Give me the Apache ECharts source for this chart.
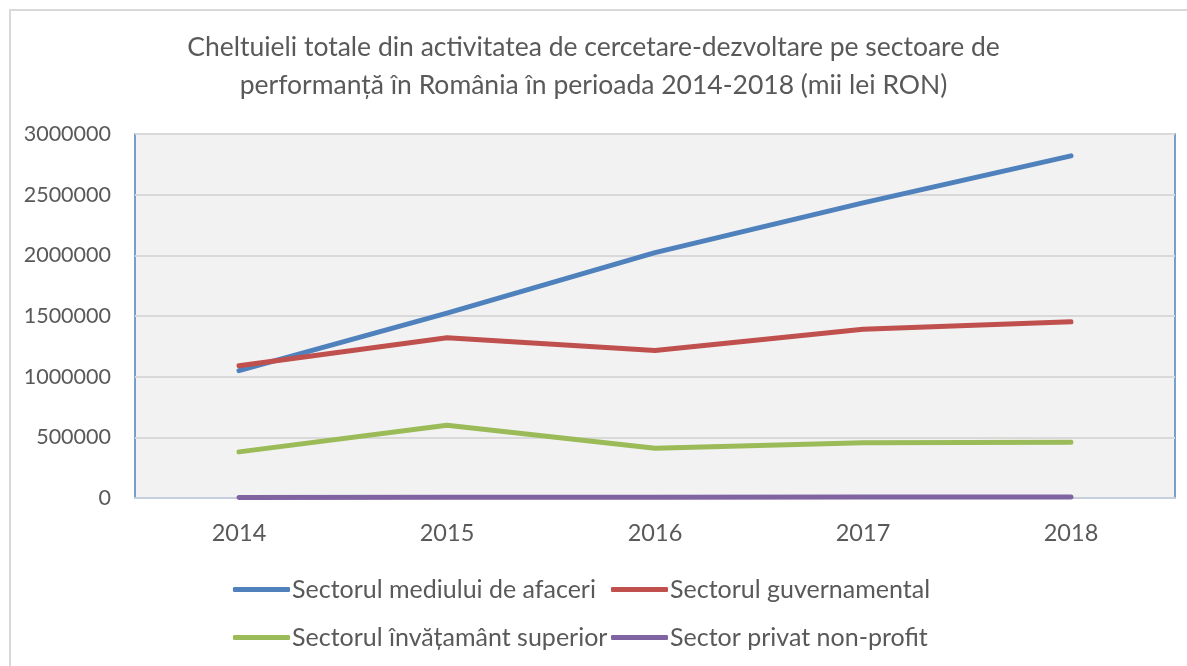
<!DOCTYPE html>
<html>
<head>
<meta charset="utf-8">
<script src="https://cdn.jsdelivr.net/npm/echarts@6/dist/echarts.min.js"></script>
<style>
  html, body { margin: 0; padding: 0; background: #fff; }
  #main { width: 1187px; height: 666px; }
</style>
</head>
<body>
<div id="main"></div>
<script>
const years = ['2014', '2015', '2016', '2017', '2018']
const seriesNames = [
  'Sectorul mediului de afaceri',
  'Sectorul guvernamental',
  'Sectorul învățamânt superior',
  'Sector privat non-profit'
]
const afaceri = [1050000, 1524000, 2022000, 2432000, 2820000]
const guvernamental = [1090000, 1321000, 1215000, 1390000, 1452000]
const superior = [380000, 600000, 410000, 455000, 460000]
const nonProfit = [5000, 7000, 6000, 9000, 8000]
const colors = ['#4f81bd', '#c0504d', '#9bbb59', '#8064a2']

const font = 'Lato, "Open Sans", sans-serif'
const textColor = '#595959'

const myChart = echarts.init(document.getElementById('main'))

// one legend per item so the 2x2 layout lines up in columns
const legendPos = [[233, 577], [611, 577], [233, 625], [611, 625]]
const legends = seriesNames.map((name, i) => ({
  left: legendPos[i][0],
  top: legendPos[i][1],
  padding: 0,
  data: [name],
  itemWidth: 57,
  itemHeight: 5,
  itemGap: 0,
  icon: 'roundRect',
  textStyle: { fontFamily: font, fontSize: 25, color: textColor, padding: [0, 0, 0, -3] }
}))

const option = {
  animation: false,
  color: colors,
  title: {
    text: 'Cheltuieli totale din activitatea de cercetare-dezvoltare pe sectoare de\nperformanță în România în perioada 2014-2018 (mii lei RON)',
    left: 'center',
    top: 23,
    textStyle: { fontFamily: font, fontSize: 26.5, fontWeight: 'normal', color: textColor, lineHeight: 38 }
  },
  graphic: [{
    type: 'rect',
    shape: { x: 10, y: 10, width: 1200, height: 700 },
    style: { fill: 'none', stroke: '#d9d9d9', lineWidth: 2 },
    silent: true
  }],
  legend: legends,
  grid: {
    left: 135,
    right: 12,
    top: 134,
    bottom: 168,
    show: true,
    backgroundColor: '#f2f2f2',
    borderColor: '#4f81bd',
    borderWidth: 1.5
  },
  xAxis: {
    type: 'category',
    data: years,
    boundaryGap: true,
    axisLine: { lineStyle: { color: '#c5cfdd', width: 2 } },
    axisTick: { show: false },
    axisLabel: { fontFamily: font, fontSize: 23.5, color: textColor, margin: 23 }
  },
  yAxis: {
    type: 'value',
    min: 0,
    max: 3000000,
    interval: 500000,
    axisLine: { show: false },
    axisTick: { show: false },
    splitLine: { lineStyle: { color: '#d9d9d9', width: 2 } },
    axisLabel: { fontFamily: font, fontSize: 21.5, color: textColor, margin: 24, formatter: v => String(v) }
  },
  series: [
    { name: seriesNames[0], data: afaceri },
    { name: seriesNames[1], data: guvernamental },
    { name: seriesNames[2], data: superior },
    { name: seriesNames[3], data: nonProfit }
  ].map(s => Object.assign(s, {
    type: 'line',
    symbol: 'none',
    lineStyle: { width: 5, cap: 'round', join: 'round' }
  }))
}

myChart.setOption(option)
</script>
</body>
</html>
